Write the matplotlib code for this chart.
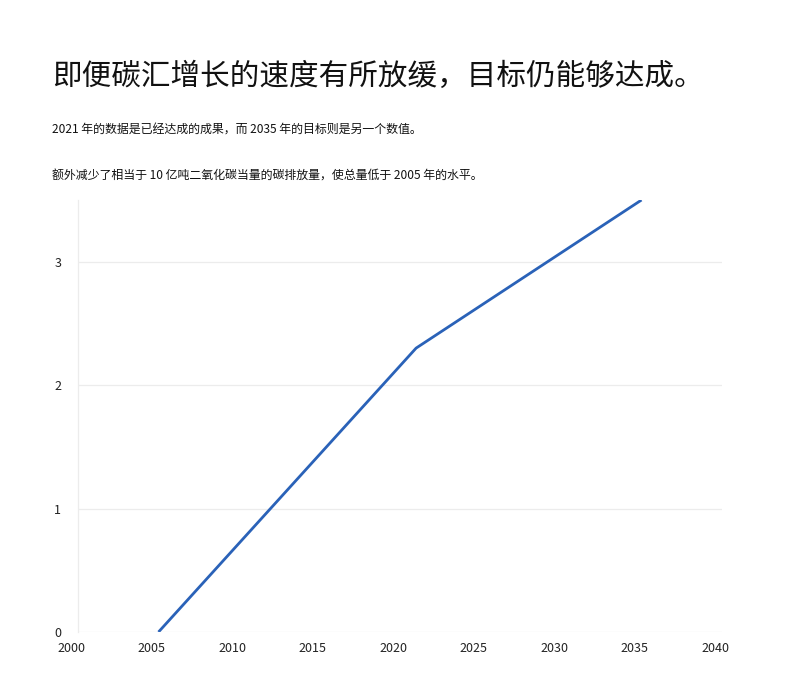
import matplotlib
matplotlib.use("Agg")
import matplotlib.pyplot as plt
from matplotlib.transforms import ScaledTranslation

plt.rcParams['font.family'] = ['Noto Sans CJK SC', 'DejaVu Sans']

years = [2005, 2021, 2035]
values = [0.0, 2.3, 3.5]
xticks = [2000, 2005, 2010, 2015, 2020, 2025, 2030, 2035, 2040]
yticks = [0, 1, 2, 3]

title = "即便碳汇增长的速度有所放缓，目标仍能够达成。"
sub1 = "2021 年的数据是已经达成的成果，而 2035 年的目标则是另一个数值。"
sub2 = "额外减少了相当于 10 亿吨二氧化碳当量的碳排放量，使总量低于 2005 年的水平。"

fig = plt.figure(figsize=(8, 6.75), dpi=100)
ax = fig.add_axes([0.0975, 0.0637, 0.805, 0.64])

ax.plot(years, values, color="#2a62b8", linewidth=2.0, solid_capstyle="butt")

ax.set_xlim(2000, 2040)
ax.set_ylim(0, 3.5)
ax.set_xticks(xticks)
ax.set_xticklabels([str(t) for t in xticks])
ax.set_yticks(yticks)
ax.set_yticklabels([str(t) for t in yticks])

for y in yticks:
    ax.axhline(y, color="#ececec", linewidth=0.9, zorder=0)

for s in ["top", "right", "bottom"]:
    ax.spines[s].set_visible(False)
ax.spines["left"].set_color("#ececec")
ax.spines["left"].set_linewidth(0.9)

ax.tick_params(axis="both", length=0, labelsize=9, colors="#222222")
ax.tick_params(axis="x", pad=7)
ax.tick_params(axis="y", pad=12)
for lbl in ax.get_xticklabels():
    lbl.set_transform(lbl.get_transform() + ScaledTranslation(-0.07, 0, fig.dpi_scale_trans))

fig.text(52/800, 1-76/675, title, fontsize=21.3, color="#111111", va="center", ha="left")
fig.text(52/800, 1-130/675, sub1, fontsize=8.6, color="#111111", va="center", ha="left")
fig.text(52/800, 1-176/675, sub2, fontsize=8.6, color="#111111", va="center", ha="left")

fig.savefig("out.png", dpi=100, facecolor="white")
